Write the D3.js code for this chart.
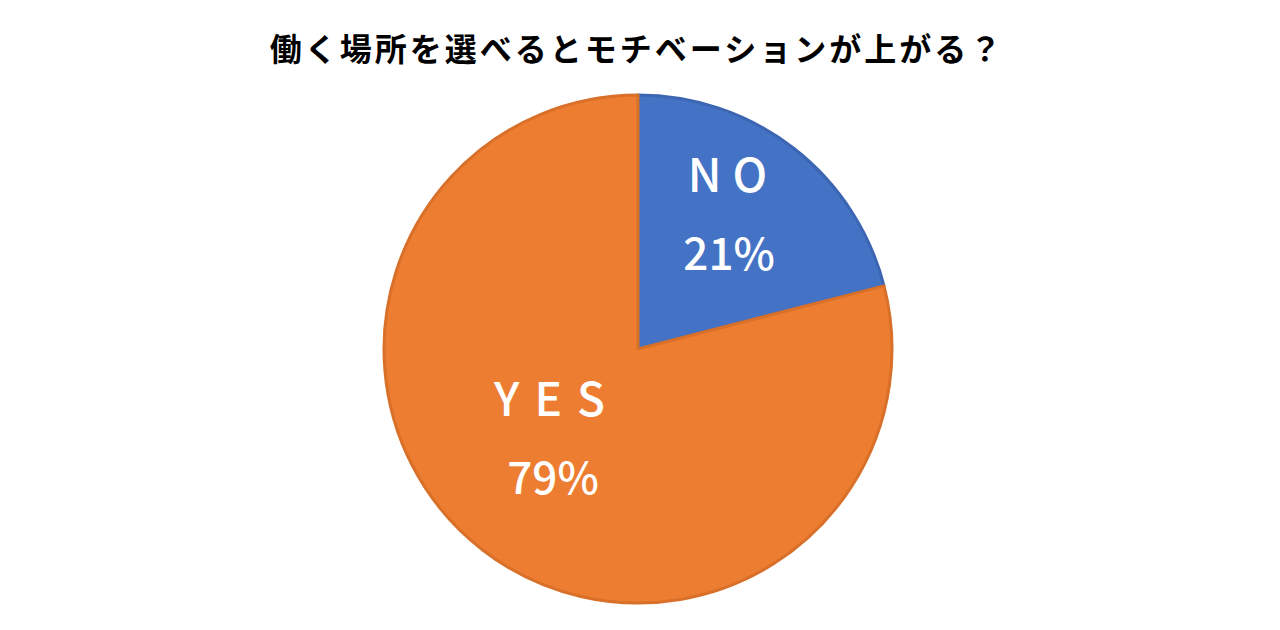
<!DOCTYPE html>
<html><head><meta charset="utf-8">
<script src="https://cdn.jsdelivr.net/npm/d3@7"></script>
<style>body{margin:0;background:#fff;}svg{display:block;}</style>
</head><body>
<svg id="chart" width="1280" height="630"></svg>
<script>
const title = "働く場所を選べるとモチベーションが上がる？";
const categories = ["NO", "YES"];
const values = [21, 79];
const colors = ["#4472C4", "#ED7D31"];
const strokes = ["#3C66B2", "#D9702A"];

const svg = d3.select("#chart");
const cx = 638, cy = 349, R = 254;

svg.append("text").attr("x", 637).attr("y", 61)
  .attr("text-anchor", "middle")
  .style("font-family", "'Noto Sans CJK JP', sans-serif")
  .style("font-weight", 700).style("font-size", "32px")
  .style("letter-spacing", "3px")
  .attr("fill", "#000").text(title);

const data = categories.map((c, i) => ({cat: c, val: values[i], color: colors[i], stroke: strokes[i]}));
const pie = d3.pie().value(d => d.val).sort(null);
const arcs = pie(data);
const arc = d3.arc().innerRadius(0).outerRadius(R);
const labelArc = d3.arc().innerRadius(142).outerRadius(142);

const g = svg.append("g").attr("transform", `translate(${cx},${cy})`);
g.selectAll("path").data(arcs).join("path")
  .attr("d", arc).attr("fill", d => d.data.color)
  .attr("stroke", d => d.data.stroke).attr("stroke-width", 3)
  .attr("stroke-linejoin", "round");

const lab = g.selectAll("g.lab").data(arcs).join("g").attr("class", "lab")
  .attr("transform", d => `translate(${labelArc.centroid(d)})`);
lab.append("text").attr("text-anchor", "middle").attr("y", -45)
  .style("font-family", "'Noto Sans CJK JP', sans-serif")
  .style("font-weight", 500).style("font-size", "46px")
  .style("letter-spacing", d => d.data.cat === "NO" ? "11px" : "15px")
  .attr("dx", d => d.data.cat === "NO" ? 8 : 6)
  .attr("fill", "#fff").text(d => d.data.cat);
lab.append("text").attr("text-anchor", "middle").attr("y", 33)
  .attr("dx", d => d.data.cat === "NO" ? 4 : 2)
  .style("font-family", "'Noto Sans CJK JP', sans-serif")
  .style("font-weight", 500).style("font-size", "44px")
  .attr("fill", "#fff").text(d => d.data.val + "%");
</script>
</body></html>
